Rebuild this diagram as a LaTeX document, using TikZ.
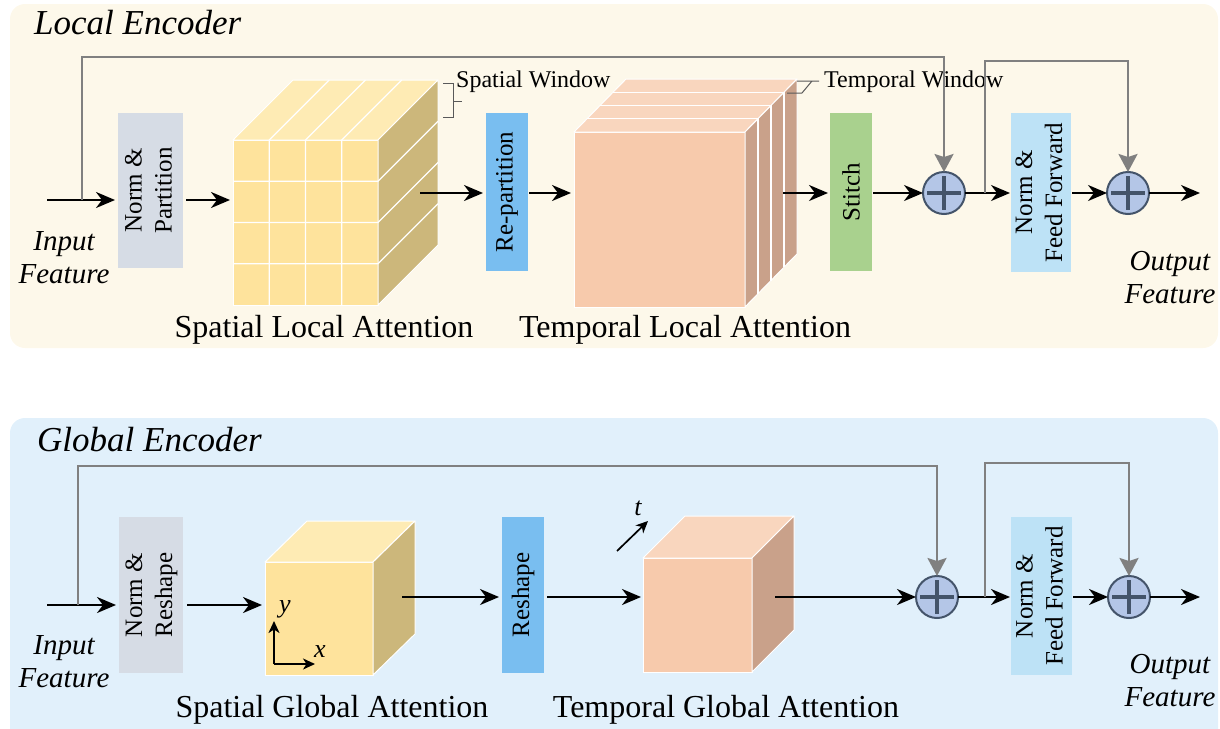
\documentclass[tikz,border=0pt]{standalone}
\usepackage{fontspec}
\setmainfont{Liberation Serif}
\usetikzlibrary{arrows.meta,calc}
\definecolor{locbg}{HTML}{FDF8EA}
\definecolor{globg}{HTML}{E1F0FB}
\definecolor{normc}{HTML}{D6DCE5}
\definecolor{blueb}{HTML}{79BEF0}
\definecolor{stitchc}{HTML}{A9D18E}
\definecolor{ffc}{HTML}{BDE2F6}
\definecolor{circf}{HTML}{B4C6E7}
\definecolor{circl}{HTML}{44546A}
\definecolor{skipc}{HTML}{808080}
\definecolor{yfront}{HTML}{FEE39C}
\definecolor{ytop}{HTML}{FEEBB4}
\definecolor{yside}{HTML}{CCB77B}
\definecolor{pfront}{HTML}{F7CAAC}
\definecolor{ptop}{HTML}{F9D6BE}
\definecolor{pside}{HTML}{C9A18A}
\tikzset{
  arr/.style={line width=2.3pt,-{Stealth[length=19pt,width=16pt,inset=6pt]}},
  thinarr/.style={line width=1.7pt,-{Stealth[length=12pt,width=11pt,inset=3.5pt]}},
  gskip/.style={draw=skipc,line width=2.5pt,-{Stealth[length=18pt,width=19pt,inset=3pt]}},
  blk/.style={inner sep=0pt,outer sep=0pt,font=\fontsize{25}{30}\selectfont},
  plus/.style={circle,minimum size=42pt,inner sep=0pt,outer sep=0pt,fill=circf,draw=circl,line width=2pt,
    path picture={\draw[circl,line width=3.5pt]
      ($(path picture bounding box.center)+(-17,0)$) -- ($(path picture bounding box.center)+(17,0)$)
      ($(path picture bounding box.center)+(0,-17)$) -- ($(path picture bounding box.center)+(0,17)$);}},
  front/.style={draw=white,line width=1pt,inner sep=0pt,outer sep=0pt},
  face/.style={draw=white,line width=1pt,line join=round},
  wline/.style={draw=white,line width=1.2pt},
  lbl/.style={inner sep=0pt,font=\fontsize{32}{38}\selectfont},
  ttl/.style={inner sep=0pt,font=\fontsize{35}{40}\selectfont\itshape},
  feat/.style={inner sep=0pt,align=center,font=\fontsize{29}{33}\selectfont\itshape},
  small/.style={inner sep=0pt,font=\fontsize{24}{28}\selectfont},
  axl/.style={inner sep=0pt,font=\fontsize{26}{30}\selectfont\itshape},
  lead/.style={draw=black!65,line width=1pt},
}
\newcommand{\vtext}[2]{\rotatebox{90}{\begin{tabular}{@{}c@{}}#1\\#2\end{tabular}}}
\begin{document}
\begin{tikzpicture}[x=1pt,y=-1pt]
\clip (0,0) rectangle (1220,728);
\useasboundingbox (0,0) rectangle (1220,728);
% panels
\fill[locbg,rounded corners=15pt] (10,4) rectangle (1218,348);
\fill[globg,rounded corners=15pt] (10,418) rectangle (1218,760);

% ================= LOCAL ENCODER =================
\node[ttl,anchor=west] (t1) at (34,23) {Local Encoder};

\node[blk,fill=normc,minimum width=65pt,minimum height=155pt] (np1) at (150.5,190.5) {\vtext{Norm \&}{Partition}};
\node[blk,fill=blueb,minimum width=42pt,minimum height=158pt] (rp) at (507,192) {\rotatebox{90}{Re-partition}};
\node[blk,fill=stitchc,minimum width=42pt,minimum height=158pt] (st) at (851,192) {\rotatebox{90}{Stitch}};
\node[blk,fill=ffc,minimum width=60pt,minimum height=159pt] (ff1) at (1041,192.5) {\vtext{Norm \&}{Feed Forward}};
\node[plus] (s1) at (944,193) {};
\node[plus] (s2) at (1128,193) {};

% spatial local cube
\node[front,fill=yfront,minimum width=145pt,minimum height=165pt] (cA) at (305.5,222.5) {};
\filldraw[face,fill=ytop] (cA.north west) -- ++(60,-60) -- ++(145,0) -- (cA.north east) -- cycle;
\filldraw[face,fill=yside] (cA.north east) -- ++(60,-60) -- ++(0,165) -- (cA.south east) -- cycle;
\foreach \i in {1,2,3}{
  \draw[wline] ($(cA.south west)+(36.25*\i,0)$) -- ($(cA.north west)+(36.25*\i,0)$) -- ++(60,-60);
  \draw[wline] ($(cA.north west)+(0,41.25*\i)$) -- ++(145,0) -- ++(60,-60);
}
% temporal local cube
\node[front,fill=pfront,minimum width=171pt,minimum height=175pt] (cB) at (659.5,219.5) {};
\filldraw[face,fill=ptop] (cB.north west) -- ++(52,-53) -- ++(171,0) -- (cB.north east) -- cycle;
\filldraw[face,fill=pside] (cB.north east) -- ++(52,-53) -- ++(0,175) -- (cB.south east) -- cycle;
\foreach \k in {1,2,3}{
  \draw[wline] ($(cB.north west)+(13*\k,-13.25*\k)$) -- ++(171,0) -- ++(0,175);
}

% window annotations
\draw[lead] (443,83) -- (453,83) -- (453,117) -- (443,117) (453,101) -- (462,101);
\node[small,anchor=west] (sw) at (456,82) {Spatial Window};
\draw[lead] (787,93) -- (802,93) -- (812,81) (797,81) -- (819,81);
\node[small,anchor=west] (tw) at (824,82) {Temporal Window};

% connectors
\coordinate (in1) at (47,200);
\coordinate (br1) at (82,200);
\coordinate (top1) at (82,57);
\coordinate (o1) at (420,193);
\coordinate (o2) at (783,193);
\coordinate (br2) at (985,193);
\coordinate (top2) at (985,61);
\coordinate (out1) at (1200,193);
\draw[arr,shorten >=3pt] (in1) -- (np1.west |- in1);
\draw[gskip] (br1) -- (top1) -| (s1.north);
\draw[arr,shorten <=3pt,shorten >=3pt] (np1.east |- in1) -- (cA.west |- in1);
\draw[arr,shorten >=3pt] (o1) -- (rp.west |- o1);
\draw[arr,shorten <=1pt,shorten >=3pt] (rp.east |- o1) -- (cB.west |- o1);
\draw[arr,shorten >=2pt] (o2) -- (st.west |- o2);
\draw[arr,shorten <=1pt] (st.east |- s1) -- (s1.west);
\draw[arr,shorten >=1pt] (s1.east) -- (ff1.west |- s1);
\draw[gskip] (br2) -- (top2) -| (s2.north);
\draw[arr,shorten <=1pt] (ff1.east |- s2) -- (s2.west);
\draw[arr] (s2.east) -- (out1);

\node[feat] (if1) at (64,258) {Input\\Feature};
\node[feat] (of1) at (1170,278) {Output\\Feature};
\node[lbl] (l1) at (324,330) {Spatial Local Attention};
\node[lbl] (l2) at (685,330) {Temporal Local Attention};

% ================= GLOBAL ENCODER =================
\node[ttl,anchor=west] (t2) at (37,440) {Global Encoder};

\node[blk,fill=normc,minimum width=64pt,minimum height=156pt] (np2) at (151,595) {\vtext{Norm \&}{Reshape}};
\node[blk,fill=blueb,minimum width=42pt,minimum height=156pt] (rs2) at (523,595) {\rotatebox{90}{Reshape}};
\node[blk,fill=ffc,minimum width=61pt,minimum height=158pt] (ff2) at (1041.5,596) {\vtext{Norm \&}{Feed Forward}};
\node[plus] (s3) at (937,597) {};
\node[plus] (s4) at (1129,597) {};

% spatial global cube
\node[front,fill=yfront,minimum width=108pt,minimum height=113pt] (cC) at (319,618.5) {};
\filldraw[face,fill=ytop] (cC.north west) -- ++(42,-41) -- ++(108,0) -- (cC.north east) -- cycle;
\filldraw[face,fill=yside] (cC.north east) -- ++(42,-41) -- ++(0,113) -- (cC.south east) -- cycle;
% temporal global cube
\node[front,fill=pfront,minimum width=109pt,minimum height=114pt] (cD) at (697.5,615) {};
\filldraw[face,fill=ptop] (cD.north west) -- ++(42,-42) -- ++(109,0) -- (cD.north east) -- cycle;
\filldraw[face,fill=pside] (cD.north east) -- ++(42,-42) -- ++(0,114) -- (cD.south east) -- cycle;

% axes
\coordinate (ax0) at (274,664);
\coordinate (axy) at (274,621);
\coordinate (axx) at (315,664);
\draw[thinarr] (ax0) -- (axy);
\draw[thinarr] (ax0) -- (axx);
\node[axl] (ly) at (285,609) {y};
\node[axl] (lx) at (320,652) {x};
\coordinate (ta) at (617,551);
\coordinate (tb) at (648,521);
\draw[thinarr] (ta) -- (tb);
\node[axl] (lt) at (638,508) {t};

% connectors
\coordinate (in2) at (47,605);
\coordinate (br3) at (78,605);
\coordinate (top3) at (78,466);
\coordinate (o3) at (402,597);
\coordinate (o4) at (775,597);
\coordinate (br4) at (985,597);
\coordinate (top4) at (985,463);
\coordinate (out2) at (1200,597);
\draw[arr,shorten >=3pt] (in2) -- (np2.west |- in2);
\draw[gskip] (br3) -- (top3) -| (s3.north);
\draw[arr,shorten <=4pt,shorten >=3pt] (np2.east |- in2) -- (cC.west |- in2);
\draw[arr,shorten >=3pt] (o3) -- (rs2.west |- o3);
\draw[arr,shorten <=3pt,shorten >=2pt] (rs2.east |- o3) -- (cD.west |- o3);
\draw[arr] (o4) -- (s3.west);
\draw[arr,shorten >=1pt] (s3.east) -- (ff2.west |- s3);
\draw[gskip] (br4) -- (top4) -| (s4.north);
\draw[arr,shorten <=1pt] (ff2.east |- s4) -- (s4.west);
\draw[arr] (s4.east) -- (out2);

\node[feat] (if2) at (64,662) {Input\\Feature};
\node[feat] (of2) at (1170,681) {Output\\Feature};
\node[lbl] (l3) at (332,710) {Spatial Global Attention};
\node[lbl] (l4) at (726,710) {Temporal Global Attention};
\end{tikzpicture}
\end{document}
